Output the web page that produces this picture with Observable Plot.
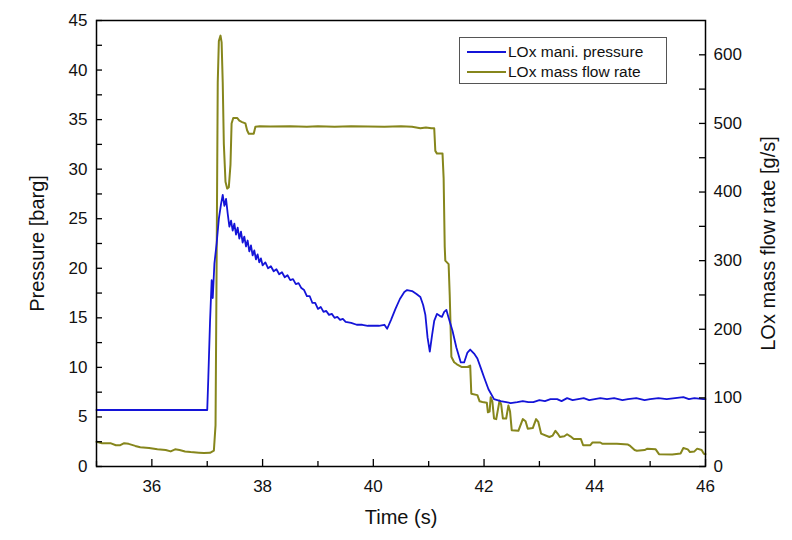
<!DOCTYPE html>
<html>
<head>
<meta charset="utf-8">
<script src="https://cdn.jsdelivr.net/npm/d3@7"></script>
<script src="https://cdn.jsdelivr.net/npm/@observablehq/plot@0.6"></script>
<style>
  body { margin: 0; background: #fff; }
  #wrap { position: relative; width: 792px; height: 540px; font-family: "Liberation Sans", Arial, sans-serif; }
  #legend { position: absolute; left: 459px; top: 37px; width: 208px; height: 47px; border: 1px solid #555; background: #fff; box-sizing: border-box; }
  #legend .row { position: absolute; left: 7px; height: 18px; display: flex; align-items: center; font-size: 15.5px; color: #111; white-space: nowrap; }
  #legend .sw { display: inline-block; width: 39px; height: 0; border-top: 2px solid; margin-right: 2px; }
</style>
</head>
<body>
<div id="wrap"></div>
<script>
// ---- Data ----
const seriesNames = ["LOx mani. pressure", "LOx mass flow rate"];
const seriesColors = ["#1414d8", "#86861c"];

// LOx manifold pressure [barg] vs time [s]
const pressureTime = [35.0,36.5,37.0,37.02,37.05,37.08,37.10,37.13,37.17,37.21,37.25,37.28,37.31,37.34,37.37,37.40,37.43,37.46,37.49,37.52,37.55,37.58,37.61,37.64,37.67,37.70,37.73,37.76,37.79,37.82,37.85,37.88,37.91,37.94,37.97,38.00,38.05,38.10,38.15,38.20,38.25,38.30,38.35,38.40,38.45,38.50,38.55,38.60,38.65,38.70,38.75,38.80,38.85,38.90,38.95,39.00,39.05,39.10,39.15,39.20,39.25,39.30,39.35,39.40,39.45,39.50,39.60,39.70,39.80,39.90,40.00,40.10,40.20,40.25,40.32,40.40,40.48,40.56,40.61,40.70,40.78,40.85,40.90,40.94,40.98,41.02,41.06,41.10,41.15,41.20,41.24,41.28,41.32,41.36,41.43,41.50,41.58,41.64,41.70,41.75,41.82,41.88,41.95,42.00,42.08,42.18,42.30,42.40,42.48,42.60,42.70,42.80,42.89,43.00,43.10,43.20,43.32,43.40,43.50,43.60,43.70,43.80,43.90,44.00,44.10,44.22,44.35,44.50,44.60,44.75,44.90,45.00,45.15,45.30,45.45,45.60,45.70,45.80,45.96,46.0];
const pressureValues = [5.7,5.7,5.7,9.0,14.5,18.8,17.0,20.5,22.5,25.0,26.5,27.4,26.3,27.0,25.5,24.2,24.8,23.8,24.5,23.4,24.1,23.0,23.7,22.6,23.2,22.2,22.8,21.7,22.3,21.3,21.8,20.9,21.4,20.6,21.0,20.3,20.6,20.0,20.2,19.7,19.9,19.4,19.6,19.1,19.3,18.8,18.9,18.4,18.5,18.0,17.8,17.2,17.2,16.5,16.5,15.9,16.1,15.6,15.7,15.3,15.4,15.0,15.1,14.8,14.9,14.6,14.5,14.3,14.3,14.2,14.2,14.2,14.3,13.9,14.8,15.9,16.9,17.6,17.8,17.7,17.4,17.1,16.3,15.3,13.0,11.6,13.2,14.7,15.4,15.2,15.1,15.6,15.8,15.0,13.7,12.0,10.5,10.5,11.5,11.8,11.4,10.9,9.8,9.0,7.8,6.8,6.6,6.5,6.4,6.5,6.6,6.5,6.5,6.7,6.6,6.8,6.8,6.6,6.9,6.7,6.8,6.9,6.7,6.8,6.9,6.8,6.9,6.7,6.8,6.9,6.7,6.8,6.9,6.8,6.9,7.0,6.8,6.9,6.8,6.8];

// LOx mass flow rate [g/s] vs time [s]
const flowTime = [35.00,35.10,35.25,35.35,35.43,35.50,35.58,35.70,35.79,35.95,36.10,36.25,36.34,36.42,36.50,36.60,36.70,36.85,36.94,37.05,37.12,37.15,37.17,37.19,37.21,37.24,37.26,37.28,37.30,37.33,37.36,37.39,37.42,37.44,37.47,37.54,37.58,37.63,37.69,37.72,37.75,37.84,37.87,37.95,38.14,38.5,38.8,39.0,39.3,39.6,39.9,40.2,40.5,40.7,40.85,40.95,41.05,41.10,41.12,41.15,41.25,41.27,41.29,41.30,41.36,41.38,41.41,41.46,41.51,41.60,41.70,41.75,41.77,41.88,41.92,41.97,42.05,42.07,42.10,42.12,42.15,42.18,42.22,42.28,42.31,42.34,42.40,42.44,42.47,42.50,42.62,42.70,42.75,42.79,42.88,42.94,42.98,43.03,43.18,43.24,43.29,43.33,43.37,43.45,43.50,43.56,43.62,43.75,43.79,43.92,43.96,44.10,44.14,44.40,44.60,44.64,44.72,44.76,44.90,44.95,45.10,45.16,45.40,45.55,45.60,45.68,45.72,45.80,45.85,45.93,45.97,46.0];
const flowValues = [36,34,34,31,31,34,33,30,28,27,25,24,22,25,24,22,21,20,19.5,20,23,60,300,560,620,628,618,560,470,415,405,407,440,500,508,508,504,502,500,490,485,485,495,496,495.5,496,495,496,495,496,495.5,495,496,495,493,494,493,493,460,456,456,420,320,300,295,250,160,152,149,145,145,147,106,104,95,94,93,79,80,101,95,70,69,96,90,70,70,89,80,53,52,69,66,55,56,69,65,48,43,45,52,48,43,44,47,44,40,40,31,31,35,35,33,33,32,30,24,23,24,26,25,18,17.5,19,27,25,21,22,26,24,18.5,18];

// Axes
const timeDomain = [35, 46];
const pressureDomain = [0, 45];
const flowDomain = [0, 650];
const timeTicks = [36, 38, 40, 42, 44, 46];
const timeMinorTicks = [35, 37, 39, 41, 43, 45];
const pressureTicks = [0, 5, 10, 15, 20, 25, 30, 35, 40, 45];
const pressureMinorTicks = [2.5, 7.5, 12.5, 17.5, 22.5, 27.5, 32.5, 37.5, 42.5];
const flowTicks = [0, 100, 200, 300, 400, 500, 600];
const flowMinorTicks = [50, 150, 250, 350, 450, 550];
const xLabel = "Time (s)";
const yLeftLabel = "Pressure [barg]";
const yRightLabel = "LOx mass flow rate [g/s]";

// ---- Build ----
const k = pressureDomain[1] / flowDomain[1]; // flow -> left-scale units
const pressureData = pressureTime.map((t, i) => ({t, v: pressureValues[i]}));
const flowData = flowTime.map((t, i) => ({t, v: flowValues[i] * k}));

const W = 792, H = 540, mL = 96, mR = 87, mT = 20, mB = 74;
const fw = W - mL - mR, fh = H - mT - mB;

const chart = Plot.plot({
  width: W, height: H,
  marginLeft: mL, marginRight: mR, marginTop: mT, marginBottom: mB,
  style: {fontFamily: "'Liberation Sans', Arial, sans-serif", fontSize: "17px", color: "#111", background: "#fff"},
  x: {domain: timeDomain, label: null},
  y: {domain: pressureDomain, label: null},
  marks: [
    Plot.line(flowData, {x: "t", y: "v", stroke: seriesColors[1], strokeWidth: 2}),
    Plot.line(pressureData, {x: "t", y: "v", stroke: seriesColors[0], strokeWidth: 1.8}),
    // inward ticks
    Plot.tickX(timeTicks, {x: d => d, insetTop: fh - 7, stroke: "#000", strokeWidth: 1.3}),
    Plot.tickX(timeMinorTicks, {x: d => d, insetTop: fh - 5, stroke: "#000", strokeWidth: 1.3}),
    Plot.tickY(pressureTicks, {y: d => d, insetRight: fw - 6, stroke: "#000", strokeWidth: 1.3}),
    Plot.tickY(pressureMinorTicks, {y: d => d, insetRight: fw - 6, stroke: "#000", strokeWidth: 1.3}),
    Plot.tickY(flowTicks.map(d => d * k), {y: d => d, insetLeft: fw - 6, stroke: "#000", strokeWidth: 1.3}),
    Plot.tickY(flowMinorTicks.map(d => d * k), {y: d => d, insetLeft: fw - 6, stroke: "#000", strokeWidth: 1.3}),
    // tick labels
    Plot.axisX(timeTicks, {anchor: "bottom", tickSize: 0, tickPadding: 13, label: null}),
    Plot.axisY(pressureTicks, {anchor: "left", tickSize: 0, tickPadding: 9, label: null}),
    Plot.axisY(flowTicks.map(d => d * k), {anchor: "right", tickSize: 0, tickPadding: 8, label: null, tickFormat: d => String(Math.round(d / k))}),
    Plot.frame({stroke: "#000", strokeWidth: 1.5}),
    // axis titles
    Plot.text([xLabel], {text: d => d, frameAnchor: "bottom", textAnchor: "middle", dy: 57, fontSize: 20, fill: "#111"}),
    Plot.text([yLeftLabel], {text: d => d, frameAnchor: "left", textAnchor: "middle", dx: -59, rotate: -90, fontSize: 20, fill: "#111"}),
    Plot.text([yRightLabel], {text: d => d, frameAnchor: "right", textAnchor: "middle", dx: 63, rotate: -90, fontSize: 20, fill: "#111"})
  ]
});

const wrap = document.getElementById("wrap");
wrap.appendChild(chart);

// legend
const legend = document.createElement("div");
legend.id = "legend";
seriesNames.forEach((name, i) => {
  const row = document.createElement("div");
  row.className = "row";
  row.style.top = (i === 0 ? 5 : 25) + "px";
  const sw = document.createElement("span");
  sw.className = "sw";
  sw.style.borderTopColor = seriesColors[i];
  const tx = document.createElement("span");
  tx.textContent = name;
  row.appendChild(sw);
  row.appendChild(tx);
  legend.appendChild(row);
});
wrap.appendChild(legend);
</script>
</body>
</html>
